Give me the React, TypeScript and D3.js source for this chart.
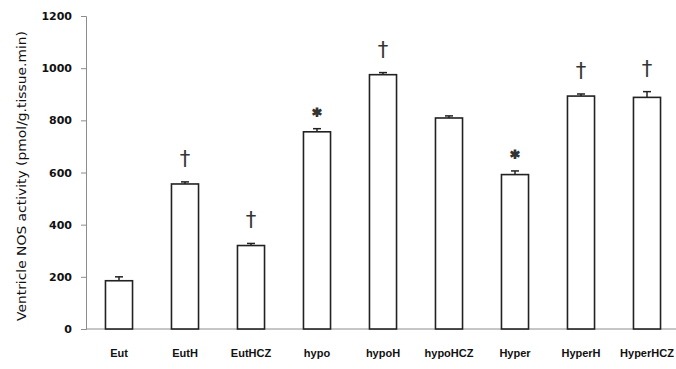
import { useEffect, useRef } from 'react';
import * as d3 from 'd3';

const categories = ['Eut', 'EutH', 'EutHCZ', 'hypo', 'hypoH', 'hypoHCZ', 'Hyper', 'HyperH', 'HyperHCZ'];
const values = [185, 556, 320, 756, 975, 809, 592, 893, 888];
const errors = [15, 8, 8, 12, 8, 8, 14, 8, 22];
const marks = ['', '†', '†', '*', '†', '', '*', '†', '†'];
const yTicks = [0, 200, 400, 600, 800, 1000, 1200];

export default function App() {
    const svgRef = useRef<SVGSVGElement | null>(null);

    useEffect(() => {
        if (!svgRef.current) return;
        const svg = d3.select(svgRef.current);
        svg.selectAll('*').remove();

        const width = 676;
        const height = 369;
        const left = 86;
        const x = d3.scaleBand().domain(categories).range([left, left + 594]).paddingInner(0.59).paddingOuter(0.295);
        const y = d3.scaleLinear().domain([0, 1200]).range([329, 16]);

        svg.attr('width', width).attr('height', height);

        // y axis
        const yAxis = svg.append('g')
            .attr('transform', `translate(${left},0)`)
            .call(d3.axisLeft(y).tickValues(yTicks).tickSize(5).tickPadding(9).tickFormat(d3.format('d')));
        yAxis.select('.domain').attr('stroke', '#8c8c8c');
        yAxis.selectAll('.tick line').attr('stroke', '#8c8c8c');
        yAxis.selectAll('.tick text')
            .attr('font-family', 'DejaVu Sans')
            .attr('font-weight', 'bold')
            .attr('font-size', 11)
            .attr('fill', '#111');

        // x axis line
        svg.append('line')
            .attr('x1', left).attr('x2', width)
            .attr('y1', y(0)).attr('y2', y(0))
            .attr('stroke', '#8c8c8c');

        // category labels
        svg.append('g').selectAll('text').data(categories).join('text')
            .attr('x', d => x(d)! + x.bandwidth() / 2)
            .attr('y', 357)
            .attr('text-anchor', 'middle')
            .attr('font-family', 'Liberation Sans Narrow, Liberation Sans')
            .attr('font-weight', 'bold')
            .attr('font-size', 11)
            .attr('fill', '#111')
            .text(d => d);

        // bars
        svg.append('g').selectAll('rect').data(values).join('rect')
            .attr('x', (d, i) => x(categories[i])!)
            .attr('y', d => y(d))
            .attr('width', x.bandwidth())
            .attr('height', d => y(0) - y(d))
            .attr('fill', 'white')
            .attr('stroke', '#222')
            .attr('stroke-width', 1.6);

        // error bars
        const eg = svg.append('g').attr('stroke', '#222').attr('stroke-width', 1.5);
        values.forEach((v, i) => {
            const cx = x(categories[i])! + x.bandwidth() / 2;
            eg.append('line').attr('x1', cx).attr('x2', cx).attr('y1', y(v)).attr('y2', y(v + errors[i]));
            eg.append('line').attr('x1', cx - 4).attr('x2', cx + 4).attr('y1', y(v + errors[i])).attr('y2', y(v + errors[i]));
        });

        // significance marks
        svg.append('g').selectAll('text').data(marks).join('text')
            .attr('x', (d, i) => x(categories[i])! + x.bandwidth() / 2)
            .attr('y', (d, i) => y(values[i] + errors[i]) - (d === '*' ? 8 : 16))
            .attr('text-anchor', 'middle')
            .attr('font-family', 'DejaVu Sans')
            .attr('font-weight', d => (d === '*' ? 'bold' : 'normal'))
            .attr('font-size', d => (d === '*' ? 17 : 21))
            .attr('fill', '#333')
            .attr('stroke', d => (d === '*' ? '#333' : 'none'))
            .attr('stroke-width', 1.2)
            .text(d => d);

        // y label
        svg.append('text')
            .attr('transform', `translate(26,${176}) rotate(-90)`)
            .attr('text-anchor', 'middle')
            .attr('font-family', 'DejaVu Sans')
            .attr('font-size', 13)
            .attr('textLength', 290)
            .attr('lengthAdjust', 'spacingAndGlyphs')
            .attr('fill', '#111')
            .text('Ventricle NOS activity  (pmol/g.tissue.min)');
    }, []);

    return <svg ref={svgRef} style={{ position: 'absolute', left: 0, top: 0, background: 'white' }}></svg>;
}
